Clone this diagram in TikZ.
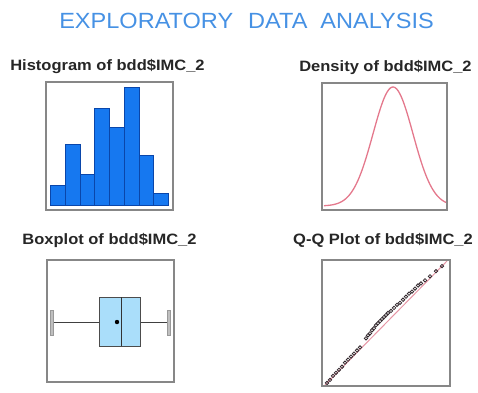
\documentclass[tikz,border=0pt]{standalone}
\usepackage{fontspec}
\setmainfont{Liberation Sans}
\definecolor{titleblue}{RGB}{70,145,228}
\definecolor{panelgray}{RGB}{135,135,135}
\definecolor{barblue}{RGB}{22,120,240}
\definecolor{bardark}{RGB}{10,70,170}
\definecolor{boxblue}{RGB}{170,222,250}
\definecolor{densred}{RGB}{228,120,140}
\definecolor{qqpink}{RGB}{230,150,165}
\definecolor{ptdark}{RGB}{50,40,45}
\tikzset{
  panel/.style={draw=panelgray, line width=1.3pt},
  ptitle/.style={font=\fontsize{15}{15}\selectfont\bfseries, text=black!85, inner sep=0pt, anchor=center},
  bar/.style={fill=barblue, draw=bardark, line width=0.8pt},
  qqpt/.style={draw=ptdark, line width=0.8pt},
}
\begin{document}
\begin{tikzpicture}[x=1pt,y=-1pt]
\useasboundingbox (0,0) rectangle (478,392);
% main title
\node (title) at (246.5,20.5) [inner sep=0pt, text=titleblue, font=\fontsize{22}{22}\selectfont]
  {\scalebox{1.07}[1]{EXPLORATORY\hspace{14pt}DATA\hspace{12pt}ANALYSIS}};
% panel titles
\node (thist) at (107.5,67) [ptitle] {\scalebox{1.1}[1]{Histogram of bdd\$IMC\_2}};
\node (tdens) at (385.5,67) [ptitle] {\scalebox{1.1}[1]{Density of bdd\$IMC\_2}};
\node (tbox) at (109.5,240) [ptitle] {\scalebox{1.1}[1]{Boxplot of bdd\$IMC\_2}};
\node (tqq) at (383,240) [ptitle] {\scalebox{1.1}[1]{Q-Q Plot of bdd\$IMC\_2}};
% histogram
\foreach \i/\t in {0/185,1/144,2/174,3/108,4/127,5/87,6/155,7/193}{
  \draw[bar] ({50.5+\i*14.75},205) rectangle ({50.5+(\i+1)*14.75},\t);
}
\draw[panel] (46,82) rectangle (173,210);
% density
\draw[densred, line width=1.3pt, smooth, samples=80, domain=324:446]
  plot (\x,{206-119*exp(-((\x-393)/20)^2/2)});
\draw[panel] (322,83) rectangle (447,210);
% boxplot
\draw[panel] (47,260) rectangle (174,382);
\draw[black!75, line width=0.9pt] (52,322) -- (99,322);
\draw[black!75, line width=0.9pt] (140,322) -- (169,322);
\draw[fill=black!25, draw=black!40, line width=0.5pt] (50.5,310) rectangle (53.5,335);
\draw[fill=black!25, draw=black!40, line width=0.5pt] (167.5,310) rectangle (170.5,335);
\draw[fill=boxblue, draw=black!70, line width=0.9pt] (99,297) rectangle (140,346);
\draw[black!80, line width=0.9pt] (121,297) -- (121,346);
\fill[black] (117,322) circle (2.2);
% Q-Q plot
\draw[qqpink, line width=1pt] (325,385) -- (447,261);
\foreach \px/\off in {327/0,330/0,333/-1,336/-1,339/-1,342/-1,345/-2,348/-2,351/-2,354/-2,357/-2,360/-2,
  366/-5,368/-6,370/-6,372/-7,374/-7,376/-8,378/-8,380/-8,382/-8,384/-8,386/-8,388/-8,
  391/-7,394/-7,397/-7,400/-6,403/-6,406/-6,409/-6,412/-5,415/-5,418/-5,421/-4,425/-3,430/-2,436/-1,442/0}{
  \draw[qqpt] (\px,{385-(\px-325)*1.0164+\off}) circle (1.7);
}
\draw[panel] (322,260) rectangle (450,386);
\end{tikzpicture}
\end{document}
